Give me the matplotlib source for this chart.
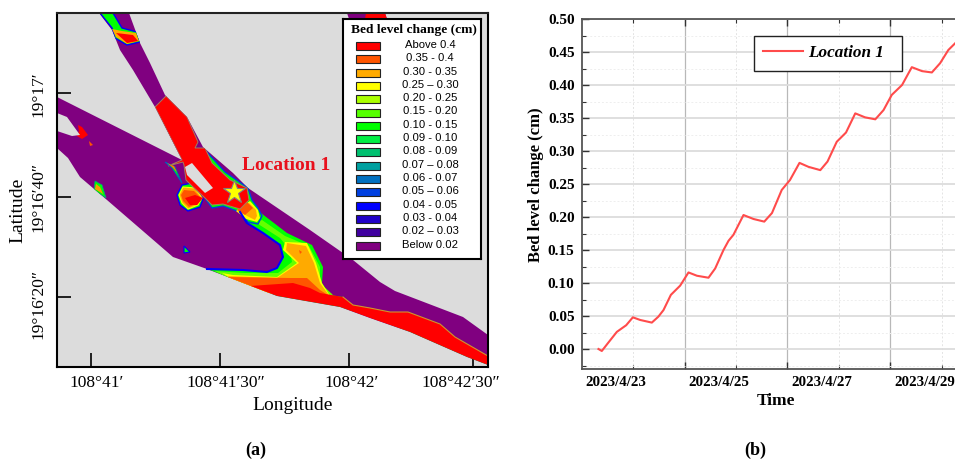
import matplotlib
matplotlib.use("Agg")
import matplotlib.pyplot as plt
from matplotlib.patches import Polygon, Rectangle

plt.rcParams['font.family'] = ['Liberation Serif', 'DejaVu Serif']

W, H = 955, 459

# map grid units: channel outline and deposition zones
channel = [(57, 97), (182, 160), (155, 107), (133, 70), (120, 50), (112, 30), (99, 13), (129, 13),
           (140, 43), (150, 63), (165, 95), (187, 117), (203, 147), (233, 173), (248, 188),
           (310, 230), (353, 260), (380, 282), (395, 291), (463, 317), (488, 335), (488, 365),
           (467, 357), (410, 332), (370, 318), (340, 307), (277, 296), (207, 269), (173, 257),
           (107, 200), (80, 177), (68, 158), (57, 148)]
island_west = [(57, 113), (67, 117), (80, 135), (72, 136), (57, 131)]
island_mid = [(185, 167), (192, 163), (213, 188), (205, 193), (195, 183), (187, 175)]

south_green = [(247, 223), (263, 233), (280, 245), (283, 257), (277, 268), (267, 272), (243, 270), (207, 269),
               (277, 296), (340, 307), (370, 317), (410, 332), (467, 357), (488, 365), (488, 356), (455, 337),
               (440, 324), (408, 312), (390, 312), (370, 308), (353, 305), (343, 297), (330, 295), (322, 283),
               (323, 267), (312, 245), (287, 233), (257, 210), (240, 212)]
south_blue_x = [207, 243, 267, 277, 283, 280, 263, 247, 240]
south_blue_y = [269, 270, 272, 268, 257, 245, 233, 223, 212]
south_edge_x = [343, 353, 370, 390, 408, 440, 455, 488]
south_edge_y = [297, 305, 308, 312, 312, 324, 337, 356]
south_lime = [(255, 222), (280, 238), (290, 250), (292, 262), (278, 273), (245, 273), (215, 271), (250, 290),
              (340, 305), (332, 294), (320, 283), (320, 267), (309, 246), (285, 236), (262, 220)]
south_yellow = [(283, 250), (297, 263), (277, 277), (233, 275), (222, 273), (250, 290), (340, 305), (330, 296),
                (322, 283), (316, 263), (307, 243), (285, 242)]
south_orange = [(287, 243), (306, 246), (314, 263), (320, 283), (328, 294), (336, 304), (250, 289), (227, 276),
                (277, 278), (299, 263), (286, 250)]
south_dark = [(227, 277), (290, 278), (307, 278), (320, 290), (331, 297), (340, 305), (250, 290)]
south_red = [(250, 286), (293, 283), (310, 288), (320, 293), (343, 297), (353, 305), (370, 308), (390, 312),
             (408, 312), (440, 324), (455, 337), (488, 356), (488, 365), (467, 357), (410, 332), (370, 318),
             (340, 307), (277, 296)]
spot_dark = [(299, 250), (302, 252), (300, 254)]

star_green = [(205, 198), (212, 208), (223, 206), (240, 212), (248, 222), (258, 224), (262, 216), (258, 208),
              (252, 200), (248, 188), (225, 172), (205, 150), (195, 150)]
star_yellow = [(236, 211), (250, 201), (258, 210), (260, 218), (257, 222), (246, 219)]
star_orange = [(237, 210), (249, 203), (256, 210), (257, 216), (255, 220), (247, 216)]
star_dark = [(237, 210), (247, 202), (253, 208), (245, 215)]
bulge_blue = [(182, 185), (177, 195), (180, 205), (188, 211), (200, 207), (203, 199), (195, 190), (192, 183)]
bulge_orange = [(183, 187), (195, 188), (202, 198), (198, 205), (188, 209), (182, 203), (179, 195)]
bulge_dark = [(184, 190), (194, 191), (201, 198), (196, 204), (189, 207), (183, 201), (181, 195)]
bulge_red = [(185, 198), (195, 195), (203, 198), (197, 205), (190, 205)]
north_red = [(155, 107), (166, 96), (187, 117), (198, 142), (195, 148), (205, 148), (212, 163), (230, 180),
             (247, 188), (249, 200), (240, 209), (223, 204), (212, 205), (205, 198), (192, 186), (186, 180),
             (184, 165), (183, 162), (168, 166), (182, 160)]
arm_green = [(165, 162), (175, 167), (182, 183), (178, 177), (172, 168)]
arm_orange = [(167, 163), (174, 166), (177, 172), (172, 167)]

top_green = [(100, 13), (113, 13), (122, 28), (137, 32), (140, 42), (127, 45), (115, 38), (112, 28)]
top_orange = [(112, 29), (122, 31), (136, 33), (139, 41), (127, 44), (116, 37)]
top_red = [(116, 33), (133, 35), (138, 41), (127, 43)]
corner_purple = [(347, 13), (385, 13), (387, 19), (349, 19)]
corner_red = [(366, 13), (385, 13), (387, 19), (365, 19)]
patch_red = [(78, 125), (82, 127), (88, 135), (82, 139), (77, 136), (79, 131)]
patch_small = [(89, 141), (93, 145), (90, 146)]
patch_west_green = [(95, 181), (102, 185), (106, 198), (94, 190)]
patch_west_orange = [(96, 184), (100, 187), (103, 194), (95, 189)]
patch_dot = [(184, 246), (190, 252), (184, 253)]
star_pos = (234, 192)

xtick_pos = [90.7, 220, 349, 473]
xtick_labels = ["108°41′", "108°41′30″", "108°42′", "108°42′30″"]
xlabel_shift = [6, 6, 3, -12]
ytick_pos = [92.7, 196.7, 296.7]
ytick_labels = ["19°17′", "19°16′40″", "19°16′20″"]
ylabel_shift = [2, 0, 7]

legend_labels = ["Above 0.4", "0.35 - 0.4", "0.30 - 0.35", "0.25 – 0.30", "0.20 - 0.25", "0.15 - 0.20",
                 "0.10 - 0.15", "0.09 - 0.10", "0.08 - 0.09", "0.07 – 0.08", "0.06 - 0.07", "0.05 – 0.06",
                 "0.04 - 0.05", "0.03 - 0.04", "0.02 – 0.03", "Below 0.02"]
legend_colors = ["#ff0000", "#ff5500", "#ffaa00", "#ffff00", "#aaff00", "#55ff00", "#00ff00", "#00ee44",
                 "#00c070", "#00a0a0", "#0070c0", "#0040e0", "#0000ff", "#2000c8", "#4000a0", "#800080"]

# bed level series, days after 2023/4/23
days = [-0.675, -0.61, -0.5, -0.317, -0.136, -0.006, 0.136, 0.363, 0.49, 0.59, 0.733, 0.914, 1.076, 1.24,
        1.465, 1.595, 1.757, 1.855, 1.95, 2.146, 2.34, 2.55, 2.7, 2.89, 3.05, 3.235, 3.41, 3.64, 3.78, 3.96,
        4.14, 4.32, 4.51, 4.71, 4.87, 5.03, 5.23, 5.42, 5.62, 5.81, 5.97, 6.13, 6.26]
bed_change = [0.0, -0.003, 0.008, 0.026, 0.036, 0.048, 0.044, 0.040, 0.049, 0.059, 0.082, 0.096, 0.116, 0.111,
              0.108, 0.122, 0.150, 0.164, 0.173, 0.203, 0.197, 0.193, 0.206, 0.241, 0.256, 0.282, 0.276, 0.271,
              0.284, 0.314, 0.328, 0.357, 0.351, 0.348, 0.362, 0.385, 0.400, 0.427, 0.421, 0.419, 0.433, 0.453,
              0.463]
date_labels = ["2023/4/23", "2023/4/25", "2023/4/27", "2023/4/29"]
date_pos = [0, 2, 4, 6]
solid_days = [1, 3, 5]


def px_axes(fig, left, top, right, bottom):
    return fig.add_axes((left / W, 1 - bottom / H, (right - left) / W, (bottom - top) / H))


def zone(ax, pts, color, clip, edge=None, lw=0.0, z=3):
    p = Polygon(pts, closed=True, facecolor=color, edgecolor=edge if edge else color, lw=lw, zorder=z)
    ax.add_patch(p)
    p.set_clip_path(clip)
    return p


fig = plt.figure(figsize=(W / 100, H / 100), dpi=100)

# panel a
ax = px_axes(fig, 57, 13, 488, 367)
ax.set_xlim(57, 488)
ax.set_ylim(367, 13)
ax.set_facecolor("#dcdcdc")
base = Polygon(channel, closed=True, facecolor="#800080", edgecolor="none", zorder=2)
ax.add_patch(base)
zone(ax, corner_purple, "#800080", ax.patch, z=2)
zone(ax, corner_red, "#ff0000", ax.patch, z=3)

clip = base
zone(ax, south_green, "#00ff00", clip)
zone(ax, south_lime, "#66ff00", clip)
zone(ax, south_yellow, "#ffff00", clip)
zone(ax, south_orange, "#ffaa00", clip)
zone(ax, south_dark, "#ff5500", clip)
zone(ax, south_red, "#ff0000", clip)
zone(ax, spot_dark, "#ff5500", clip)
ax.plot(south_blue_x, south_blue_y, color="#0000ff", lw=1.5, zorder=3.2)
ax.plot(south_edge_x, south_edge_y, color="#d09030", lw=0.8, zorder=3.2)
zone(ax, star_green, "#00ff00", clip, edge="#0040e0", lw=1.0)
zone(ax, bulge_blue, "#00ff00", clip, edge="#0000ff", lw=1.0)
zone(ax, bulge_orange, "#ffaa00", clip, edge="#ffff00", lw=0.8)
zone(ax, bulge_dark, "#ff5500", clip)
zone(ax, bulge_red, "#ff0000", clip)
zone(ax, star_yellow, "#ffff00", clip)
zone(ax, star_orange, "#ffaa00", clip)
zone(ax, star_dark, "#ff5500", clip)
zone(ax, north_red, "#ff0000", clip, edge="#a08060", lw=0.7)
zone(ax, arm_green, "#00ff00", clip, edge="#0060c0", lw=0.7)
zone(ax, arm_orange, "#ff7700", clip)
zone(ax, top_green, "#00ff00", clip, edge="#0000ff", lw=1.0)
zone(ax, top_orange, "#ffaa00", clip)
zone(ax, top_red, "#ff0000", clip)
zone(ax, patch_red, "#ff0000", clip)
zone(ax, patch_small, "#ff5500", clip)
zone(ax, patch_west_green, "#00ff00", clip, edge="#00a080", lw=0.6)
zone(ax, patch_west_orange, "#ff9900", clip)
zone(ax, patch_dot, "#00ff00", clip, edge="#0000ff", lw=0.8)
for isl in (island_west, island_mid):
    ax.add_patch(Polygon(isl, closed=True, facecolor="#dcdcdc", edgecolor="none", zorder=4))

ax.plot([star_pos[0]], [star_pos[1]], marker="*", ms=17, mfc="#ffff00", mec="#808080", mew=0.8, zorder=6)
ax.text(286, 165, "Location 1", color="#e8101c", fontsize=14, fontweight="bold", ha="center", va="center", zorder=6)

# tick labels do not sit exactly under their ticks, so they are placed with offsets
ax.set_xticks(xtick_pos, [""] * len(xtick_pos))
ax.set_yticks(ytick_pos, [""] * len(ytick_pos))
for pos, lab, shift in zip(xtick_pos, xtick_labels, xlabel_shift):
    ax.annotate(lab, xy=(pos, 0), xycoords=ax.get_xaxis_transform(), xytext=(shift * 0.72, -11.5),
                textcoords="offset points", fontsize=12.5, ha="center", va="center")
for pos, lab, shift in zip(ytick_pos, ytick_labels, ylabel_shift):
    ax.annotate(lab, xy=(0, pos), xycoords=ax.get_yaxis_transform(), xytext=(-13, -shift * 0.72),
                textcoords="offset points", fontsize=12.5, rotation=90, ha="center", va="center")
ax.tick_params(axis="both", direction="in", length=10, width=1.2, color="black")
for s in ax.spines.values():
    s.set_linewidth(1.5)
    s.set_zorder(8)
ax.spines["top"].set_color("#222222")
fig.text(293 / W, 1 - 405 / H, "Longitude", fontsize=14, ha="center", va="center")
fig.text(18 / W, 1 - 210 / H, "Latitude", fontsize=14, rotation=90, ha="center", va="center")
fig.text(256 / W, 1 - 450 / H, "(a)", fontsize=13, fontweight="bold", ha="center", va="center")
fig.text(755 / W, 1 - 450 / H, "(b)", fontsize=13, fontweight="bold", ha="center", va="center")

# map legend drawn in its own small axes
lax = px_axes(fig, 343, 19, 481, 259)
lax.set_xlim(343, 481)
lax.set_ylim(259, 19)
lax.set_xticks([])
lax.set_yticks([])
lax.set_zorder(9)
for s in lax.spines.values():
    s.set_linewidth(1.5)
lax.text(414, 29.5, "Bed level change (cm)", fontsize=9.7, fontweight="bold", ha="center", va="center")
for i, (lab, col) in enumerate(zip(legend_labels, legend_colors)):
    y = 46 + i * 13.3
    lax.add_patch(Rectangle((355.5, y - 4), 24, 8, facecolor=col, edgecolor="#222222", lw=0.8))
    lax.text(430, y - 1, lab, fontsize=8.1, ha="center", va="center", family=["Liberation Sans", "DejaVu Sans"])

# panel b
bx = px_axes(fig, 581.5, 19, 955, 369)
bx.set_xlim(-1.005, 6.26)
bx.set_ylim(-0.0303, 0.50)
bx.plot(days, bed_change, color="#ff4b4b", lw=1.5, zorder=3, label="Location 1\u2002")
bx.set_yticks([0.0, 0.05, 0.10, 0.15, 0.20, 0.25, 0.30, 0.35, 0.40, 0.45, 0.50])
bx.set_yticks([-0.025, 0.025, 0.075, 0.125, 0.175, 0.225, 0.275, 0.325, 0.375, 0.425, 0.475], minor=True)
bx.set_yticklabels(["%.2f" % v for v in bx.get_yticks()], fontsize=11, fontweight="bold")
bx.set_xticks(solid_days, ["", "", ""])
bx.set_xticks(date_pos, [""] * len(date_pos), minor=True)
# date labels sit left of their ticks in the reference
for pos, lab in zip(date_pos, date_labels):
    bx.annotate(lab, xy=(pos, 0), xycoords=bx.get_xaxis_transform(), xytext=(-12.2, -10),
                textcoords="offset points", fontsize=10.8, fontweight="bold", ha="center", va="center",
                annotation_clip=False)
bx.grid(axis="y", which="major", color="#dcdcdc", lw=1.3)
bx.grid(axis="y", which="minor", color="#eeeeee", lw=0.7, ls=(0, (2, 2)))
bx.grid(axis="x", which="major", color="#b8b8b8", lw=0.9)
bx.grid(axis="x", which="minor", color="#e4e4e4", lw=0.7, ls=(0, (2, 2)))
bx.set_axisbelow(True)
bx.tick_params(axis="both", which="major", direction="in", length=5, width=1.0, color="#333333", top=True)
bx.tick_params(axis="both", which="minor", direction="in", length=3, width=0.8, color="#333333", top=True)
bx.tick_params(axis="y", which="major", pad=5)
for side in ("top", "left", "bottom"):
    bx.spines[side].set_color("#555555")
    bx.spines[side].set_linewidth(1.3)
bx.spines["right"].set_visible(False)
leg = bx.legend(loc="upper left", bbox_to_anchor=((754 - 581.5) / 373.5, 1 - (36 - 19) / 350), borderaxespad=0,
                fancybox=False, framealpha=1, edgecolor="#222222",
                prop={"family": "Liberation Serif", "weight": "bold", "style": "italic", "size": 12.3},
                handlelength=2.3, borderpad=0.55, handletextpad=0.3)
leg.get_frame().set_linewidth(1.0)
fig.text(776 / W, 1 - 401 / H, "Time", fontsize=12.5, fontweight="bold", ha="center", va="center")
fig.text(536 / W, 1 - 185 / H, "Bed level change (cm)", fontsize=12, fontweight="bold", rotation=90,
         ha="center", va="center")

fig.savefig("out.png", dpi=100)
